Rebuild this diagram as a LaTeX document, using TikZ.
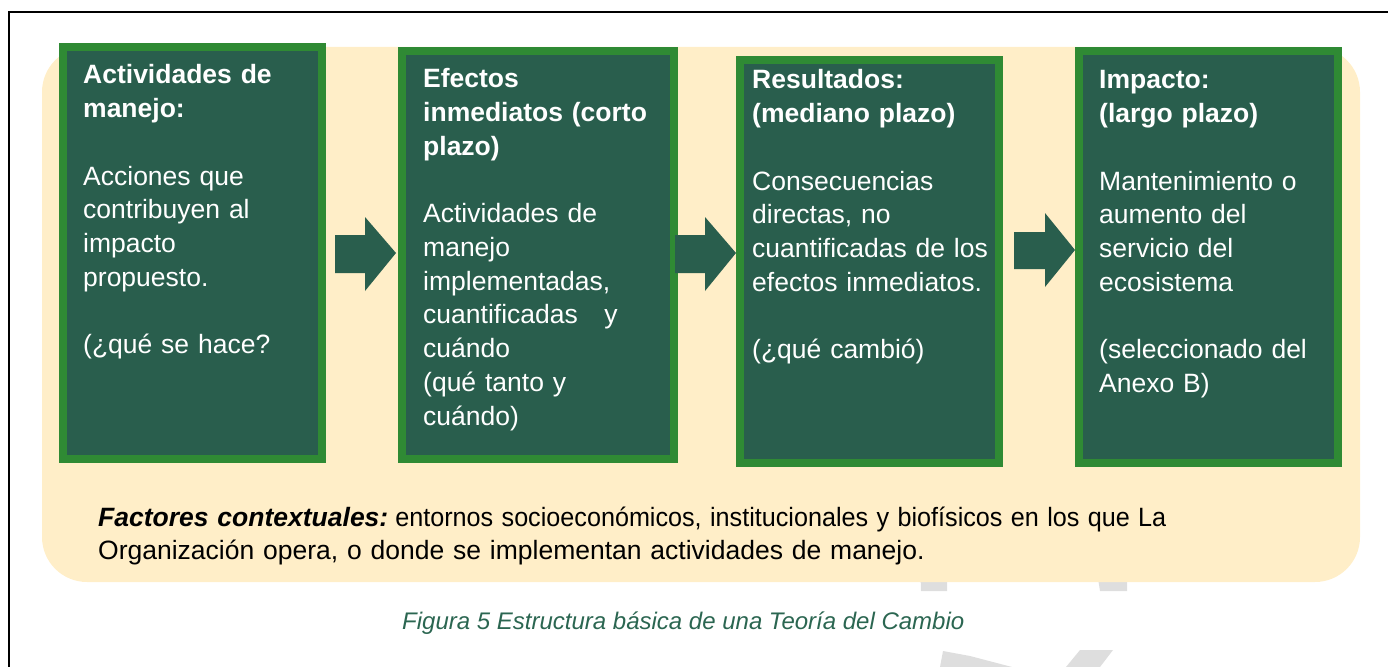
\documentclass[tikz,border=0pt]{standalone}
\usepackage{graphicx}
\usepackage{fontspec}
\setmainfont{Liberation Sans}
\definecolor{boxfill}{HTML}{295E4D}
\definecolor{boxedge}{HTML}{2F8A34}
\definecolor{beige}{HTML}{FFEEC8}
\definecolor{capgreen}{HTML}{2B6651}
\definecolor{wm}{HTML}{DEDEDE}
\tikzset{
  stage/.style={fill=boxfill, draw=boxedge, line width=8pt, inner sep=0pt, outer sep=0pt},
  stagetext/.style={text=white, anchor=base west, inner sep=0pt, text width=262pt, align=left,
    font=\fontsize{26.5}{33.7}\selectfont},
  flow/.style={fill=boxfill, draw=none},
  wmark/.style={fill=wm, draw=none},
}
\begin{document}
\begin{tikzpicture}[x=1pt,y=-1pt]
\useasboundingbox (0,0) rectangle (1388,666);
% faint watermark pieces (behind the panel)
\fill[wmark] (920,560) -- (947,560) -- (947,591) -- (921,591) -- cycle;
\fill[wmark] (1095,560) -- (1127,560) -- (1127,591) -- (1100,591) -- cycle;
\fill[wmark] (940,667) -- (943,651) -- (970,656) -- (1012,667) -- cycle;
\fill[wmark] (1066,667) -- (1080,650) -- (1113,650) -- (1100,667) -- cycle;
% frame
\draw[line width=2pt] (9,667) -- (9,12) -- (1389,12);
% panel
\fill[beige, rounded corners=45pt] (42,47) rectangle (1360,582);
% stages
\node[stage, minimum width=259pt, minimum height=412pt] (b1) at (192.5,253) {};
\node[stage, minimum width=272pt, minimum height=408pt] (b2) at (538,255) {};
\node[stage, minimum width=259pt, minimum height=403pt] (b3) at (869.5,261.5) {};
\node[stage, minimum width=259pt, minimum height=412pt] (b4) at (1208.5,257) {};
% arrows
\fill[flow] (335,235) -- (365,235) -- (365,217) -- (396,253) -- (365,291) -- (365,273) -- (335,273) -- cycle;
\fill[flow] (675,235) -- (705,235) -- (705,217) -- (736,253) -- (705,291) -- (705,273) -- (675,273) -- cycle;
\fill[flow] (1014,232) -- (1045,232) -- (1045,213) -- (1075,250) -- (1045,287) -- (1045,269) -- (1014,269) -- cycle;
% texts
\node[stagetext] (t1) at (83,84) {\textbf{Actividades de}\\\textbf{manejo:}\\[33.7pt]Acciones que\\contribuyen al\\impacto\\propuesto.\\[33.7pt](¿qué se hace?};
\node[stagetext] (t2) at (423,88) {\textbf{Efectos}\\\textbf{inmediatos (corto}\\\textbf{plazo)}\\[33.7pt]Actividades de\\manejo\\implementadas,\\cuantificadas\ \ \ y\\cuándo\\(qué tanto y\\cuándo)};
\node[stagetext] (t3) at (752,89) {\textbf{Resultados:}\\\textbf{(mediano plazo)}\\[33.7pt]Consecuencias\\directas, no\\cuantificadas de los\\efectos inmediatos.\\[33.7pt](¿qué cambió)};
\node[stagetext] (t4) at (1099,89) {\textbf{Impacto:}\\\textbf{(largo plazo)}\\[33.7pt]Mantenimiento o\\aumento del\\servicio del\\ecosistema\\[33.7pt](seleccionado del\\Anexo B)};
\node[anchor=base west, inner sep=0pt, text width=1200pt, align=left, font=\fontsize{26.5}{33}\selectfont] (ctx) at (98,526)
  {\textbf{\textit{Factores contextuales:}}\hspace{7pt}\scalebox{0.95}[1]{entornos socioeconómicos, institucionales y biofísicos en los que La}\\Organización opera, o donde se implementan actividades de manejo.};
\node[anchor=base west, inner sep=0pt, text=capgreen, font=\fontsize{24}{28}\selectfont\itshape] (cap) at (402,629)
  {Figura 5 Estructura básica de una Teoría del Cambio};
\end{tikzpicture}
\end{document}
